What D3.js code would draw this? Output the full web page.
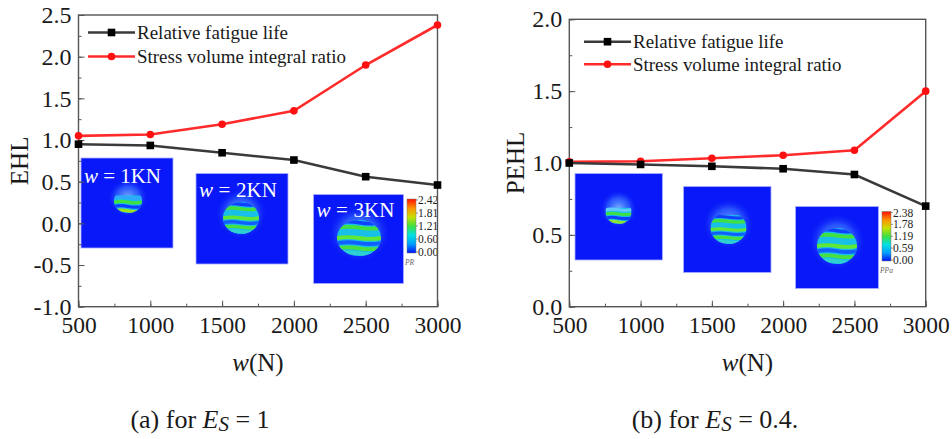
<!DOCTYPE html>
<html>
<head>
<meta charset="utf-8">
<script src="https://cdn.jsdelivr.net/npm/d3@7"></script>
<style>
  html, body { margin: 0; padding: 0; background: #fff; }
  svg { display: block; }
  svg text { font-family: "Times New Roman", Tinos, "Liberation Serif", "DejaVu Serif", serif; fill: #1a1a1a; }
</style>
</head>
<body>
<svg id="chart" width="952" height="439"></svg>
<script>
// Applied load w (N)
const loads = [500, 1000, 1500, 2000, 2500, 3000];

// (a) Es = 1
const lifeA = [0.95, 0.935, 0.847, 0.76, 0.56, 0.46];
const svirA = [1.05, 1.067, 1.19, 1.35, 1.90, 2.38];
const yTicksA = [-1.0, -0.5, 0.0, 0.5, 1.0, 1.5, 2.0, 2.5];
const insetLabelsA = ["1KN", "2KN", "3KN"];
const barLabelsA = ["2.42", "1.81", "1.21", "0.60", "0.00"];

// (b) Es = 0.4
const lifeB = [1.0, 0.99, 0.977, 0.96, 0.92, 0.70];
const svirB = [1.008, 1.012, 1.033, 1.054, 1.089, 1.50];
const yTicksB = [0.0, 0.5, 1.0, 1.5, 2.0];
const barLabelsB = ["2.38", "1.78", "1.19", "0.59", "0.00"];

const xTicks = [500, 1000, 1500, 2000, 2500, 3000];
const seriesNames = ["Relative fatigue life", "Stress volume integral ratio"];

const SERIF = '"Times New Roman", Tinos, "Liberation Serif", "DejaVu Serif", serif';
const svg = d3.select("#chart");
const defs = svg.append("defs");

// colour map of the contour plots
const jet = ["#0010f8", "#00a0ff", "#00e0e0", "#40e040", "#c8e000", "#ff9000", "#ff1000"];
const barGrad = defs.append("linearGradient").attr("id", "jetbar")
  .attr("x1", 0).attr("y1", 1).attr("x2", 0).attr("y2", 0);
jet.forEach((c, i) => barGrad.append("stop").attr("offset", i / (jet.length - 1)).attr("stop-color", c));

const halo = defs.append("radialGradient").attr("id", "halo");
halo.append("stop").attr("offset", 0).attr("stop-color", "#8ec8ff").attr("stop-opacity", 0.9);
halo.append("stop").attr("offset", 0.6).attr("stop-color", "#3c78ff").attr("stop-opacity", 0.6);
halo.append("stop").attr("offset", 1).attr("stop-color", "#0818f8").attr("stop-opacity", 0);

const fmtY = v => d3.format(".1f")(v).replace("\u2212", "-");
let clipId = 0;

// A stress contour inset: blue field, soft halo, banded spot
function drawInset(g, box, spot, label, bands) {
  const ins = g.append("g");
  ins.append("rect").attr("x", box[0]).attr("y", box[1])
    .attr("width", box[2]).attr("height", box[3])
    .attr("fill", "#0818f8").attr("stroke", "#a8b0ff").attr("stroke-width", 0.8);
  ins.append("ellipse").attr("cx", spot.cx).attr("cy", spot.cy - spot.ry * 0.25)
    .attr("rx", spot.rx * 1.45).attr("ry", spot.ry * 1.6).attr("fill", "url(#halo)");
  const id = "spot" + (clipId++);
  const cp = defs.append("clipPath").attr("id", id);
  // only the lower part of the sphere shows contact stress
  cp.append("ellipse").attr("cx", spot.cx).attr("cy", spot.cy)
    .attr("rx", spot.rx).attr("ry", spot.ry);
  const sg = ins.append("g").attr("clip-path", `url(#${id})`);
  const top = spot.cy - spot.ry * spot.cut;
  sg.append("rect").attr("x", spot.cx - spot.rx).attr("y", top)
    .attr("width", spot.rx * 2).attr("height", spot.cy + spot.ry - top)
    .attr("fill", "#18c0e8");
  const bh = (spot.cy + spot.ry - top) / bands.length;
  bands.forEach((c, i) => {
    sg.append("path")
      .attr("d", `M${spot.cx - spot.rx},${top + i * bh + bh * 0.5}
        q${spot.rx * 0.5},${-bh * 0.35} ${spot.rx},0 t${spot.rx},0`)
      .attr("fill", "none").attr("stroke", c).attr("stroke-width", bh * 0.75);
  });
  if (label) {
    const t = ins.append("text").attr("x", box[0] + 3).attr("y", label.y)
      .attr("font-size", 21).style("fill", "#fff")
      .attr("textLength", label.w).attr("lengthAdjust", "spacing");
    t.append("tspan").attr("font-style", "italic").text("w");
    t.append("tspan").text(" = " + label.text);
  }
}

function drawColorbar(g, x, y0, y1, labels, unit) {
  g.append("rect").attr("x", x).attr("y", y0).attr("width", 9).attr("height", y1 - y0)
    .attr("fill", "url(#jetbar)").attr("stroke", "#777").attr("stroke-width", 0.5);
  const s = d3.scaleLinear().domain([0, labels.length - 1]).range([y0 + 1, y1 - 1]);
  labels.forEach((l, i) => {
    g.append("line").attr("x1", x + 9).attr("x2", x + 11).attr("y1", s(i)).attr("y2", s(i))
      .attr("stroke", "#555").attr("stroke-width", 0.6);
    g.append("text").attr("x", x + 11).attr("y", s(i)).attr("dy", "0.35em")
      .attr("font-size", 11.5).style("fill", "#222").text(l);
  });
  g.append("text").attr("x", x - 2).attr("y", y1 + 12).attr("font-size", 7.5)
    .attr("font-style", "italic").style("fill", "#666").text(unit);
}

function drawPanel(cfg) {
  const g = svg.append("g");
  const x = d3.scaleLinear().domain([500, 3000]).range([cfg.left, cfg.right]);
  const y = d3.scaleLinear().domain(cfg.yDomain).range([cfg.bottom, cfg.top]);

  // insets sit under the frame and the curves
  cfg.insets.forEach(ins => drawInset(g, ins.box, ins.spot, ins.label, ins.bands));
  drawColorbar(g, cfg.bar.x, cfg.bar.y0, cfg.bar.y1, cfg.bar.labels, cfg.bar.unit);

  // axes with inward ticks
  const xMinor = d3.range(500, 3001, 250);
  const yMinor = d3.range(cfg.yDomain[0], cfg.yDomain[1] + 0.001, 0.25);
  g.append("g").attr("transform", `translate(0,${cfg.bottom})`)
    .call(d3.axisBottom(x).tickValues(xMinor).tickSize(-3).tickFormat(""));
  g.append("g").attr("transform", `translate(0,${cfg.bottom})`)
    .call(d3.axisBottom(x).tickValues(xTicks).tickSize(-6).tickPadding(13).tickFormat(d3.format("d")))
    .call(a => a.selectAll("text").attr("font-size", 23.5).attr("dy", "0.55em"));
  g.append("g").attr("transform", `translate(${cfg.left},0)`)
    .call(d3.axisLeft(y).tickValues(yMinor).tickSize(-3).tickFormat(""));
  g.append("g").attr("transform", `translate(${cfg.left},0)`)
    .call(d3.axisLeft(y).tickValues(cfg.yTicks).tickSize(-6).tickPadding(7).tickFormat(fmtY))
    .call(a => a.selectAll("text").attr("font-size", 24));
  g.selectAll(".domain").remove();
  g.selectAll("g").attr("font-family", SERIF);
  g.selectAll(".tick line").attr("stroke", "#555").attr("stroke-width", 1);

  g.append("rect").attr("x", cfg.left).attr("y", cfg.top)
    .attr("width", cfg.right - cfg.left).attr("height", cfg.bottom - cfg.top)
    .attr("fill", "none").attr("stroke", "#555").attr("stroke-width", 1.4);

  // curves
  const line = d3.line().x((d, i) => x(loads[i])).y(d => y(d));
  g.append("path").datum(cfg.svir).attr("d", line)
    .attr("fill", "none").attr("stroke", "#ff2a2a").attr("stroke-width", 2.6);
  g.append("path").datum(cfg.life).attr("d", line)
    .attr("fill", "none").attr("stroke", "#3a3a3a").attr("stroke-width", 2.6);
  g.selectAll(".pt-svir").data(cfg.svir).join("circle")
    .attr("cx", (d, i) => x(loads[i])).attr("cy", d => y(d)).attr("r", 3.8).attr("fill", "#ff1010");
  g.selectAll(".pt-life").data(cfg.life).join("rect")
    .attr("x", (d, i) => x(loads[i]) - 3.8).attr("y", d => y(d) - 3.8)
    .attr("width", 7.6).attr("height", 7.6).attr("fill", "#000");

  // legend
  const lg = g.append("g");
  [["#3a3a3a", "sq"], ["#ff2a2a", "ci"]].forEach((s, i) => {
    const ly = cfg.legend.y + i * cfg.legend.dy;
    lg.append("line").attr("x1", cfg.legend.x).attr("x2", cfg.legend.x + 47)
      .attr("y1", ly).attr("y2", ly).attr("stroke", s[0]).attr("stroke-width", 2.6);
    if (s[1] === "sq") {
      lg.append("rect").attr("x", cfg.legend.x + 23.5 - 3.8).attr("y", ly - 3.8)
        .attr("width", 7.6).attr("height", 7.6).attr("fill", "#000");
    } else {
      lg.append("circle").attr("cx", cfg.legend.x + 23.5).attr("cy", ly).attr("r", 3.8).attr("fill", "#ff1010");
    }
    lg.append("text").attr("x", cfg.legend.x + 49).attr("y", ly).attr("dy", "0.35em")
      .attr("font-size", 18).attr("textLength", cfg.legend.widths[i]).attr("lengthAdjust", "spacingAndGlyphs")
      .text(seriesNames[i]);
  });

  // axis titles
  g.append("text").attr("transform", `translate(${cfg.yTitleX},${(cfg.top + cfg.bottom) / 2}) rotate(-90)`)
    .attr("text-anchor", "middle").attr("font-size", 25).text(cfg.yLabel);
  const xt = g.append("text").attr("x", (cfg.left + cfg.right) / 2).attr("y", cfg.bottom + 64)
    .attr("text-anchor", "middle").attr("font-size", 25);
  xt.append("tspan").attr("font-style", "italic").text("w");
  xt.append("tspan").text("(N)");

  // caption
  const cap = g.append("text").attr("x", cfg.caption.x).attr("y", 428)
    .attr("text-anchor", "middle").attr("font-size", 26);
  cap.append("tspan").text(cfg.caption.pre);
  cap.append("tspan").attr("font-style", "italic").text("E");
  cap.append("tspan").attr("font-style", "italic").attr("font-size", 21).attr("dy", 3).text("S");
  cap.append("tspan").attr("dy", -3).text(cfg.caption.post);
}

const bandsA = ["#1040ff", "#40e040", "#18c0e8", "#60e838", "#1060ff", "#48e040", "#30d0d0"];

drawPanel({
  left: 78.5, right: 437.5, top: 15, bottom: 306.7,
  yDomain: [-1.0, 2.5], yTicks: yTicksA, life: lifeA, svir: svirA, yLabel: "EHL", yTitleX: 28,
  legend: { x: 88, y: 32.5, dy: 24, widths: [151, 209] },
  caption: { x: 200, pre: "(a) for ", post: " = 1" },
  insets: [
    { box: [81, 158, 92, 90], spot: { cx: 128, cy: 201, rx: 14, ry: 12, cut: 0.45 },
      label: { y: 183, w: 77, text: insetLabelsA[0] }, bands: ["#30a8ff", "#40e040", "#1040ff", "#a0e020"] },
    { box: [196, 173.5, 92, 90.5], spot: { cx: 241, cy: 218, rx: 18, ry: 16, cut: 1 },
      label: { y: 197, w: 78, text: insetLabelsA[1] }, bands: bandsA },
    { box: [313.5, 194.5, 90, 89], spot: { cx: 359, cy: 238, rx: 22, ry: 18, cut: 1 },
      label: { y: 217, w: 78, text: insetLabelsA[2] }, bands: bandsA }
  ],
  bar: { x: 407, y0: 199, y1: 253, labels: barLabelsA, unit: "PR" }
});

drawPanel({
  left: 569.3, right: 925.7, top: 19.3, bottom: 306.7,
  yDomain: [0.0, 2.0], yTicks: yTicksB, life: lifeB, svir: svirB, yLabel: "PEHL", yTitleX: 524,
  legend: { x: 584, y: 41.7, dy: 22.5, widths: [150.5, 208.5] },
  caption: { x: 715, pre: "(b) for ", post: " = 0.4." },
  insets: [
    { box: [575, 173.5, 87.5, 86.5], spot: { cx: 618.5, cy: 212, rx: 13, ry: 12, cut: 0.35 },
      label: null, bands: ["#60c8ff", "#40e040", "#1040ff", "#90e030"] },
    { box: [683.5, 186.5, 87.5, 86], spot: { cx: 728.5, cy: 228, rx: 18, ry: 16, cut: 0.8 },
      label: null, bands: bandsA },
    { box: [795.5, 206.5, 83, 82], spot: { cx: 837, cy: 246, rx: 20, ry: 18, cut: 1 },
      label: null, bands: bandsA }
  ],
  bar: { x: 882, y0: 211.5, y1: 261, labels: barLabelsB, unit: "PPa" }
});
</script>
</body>
</html>
